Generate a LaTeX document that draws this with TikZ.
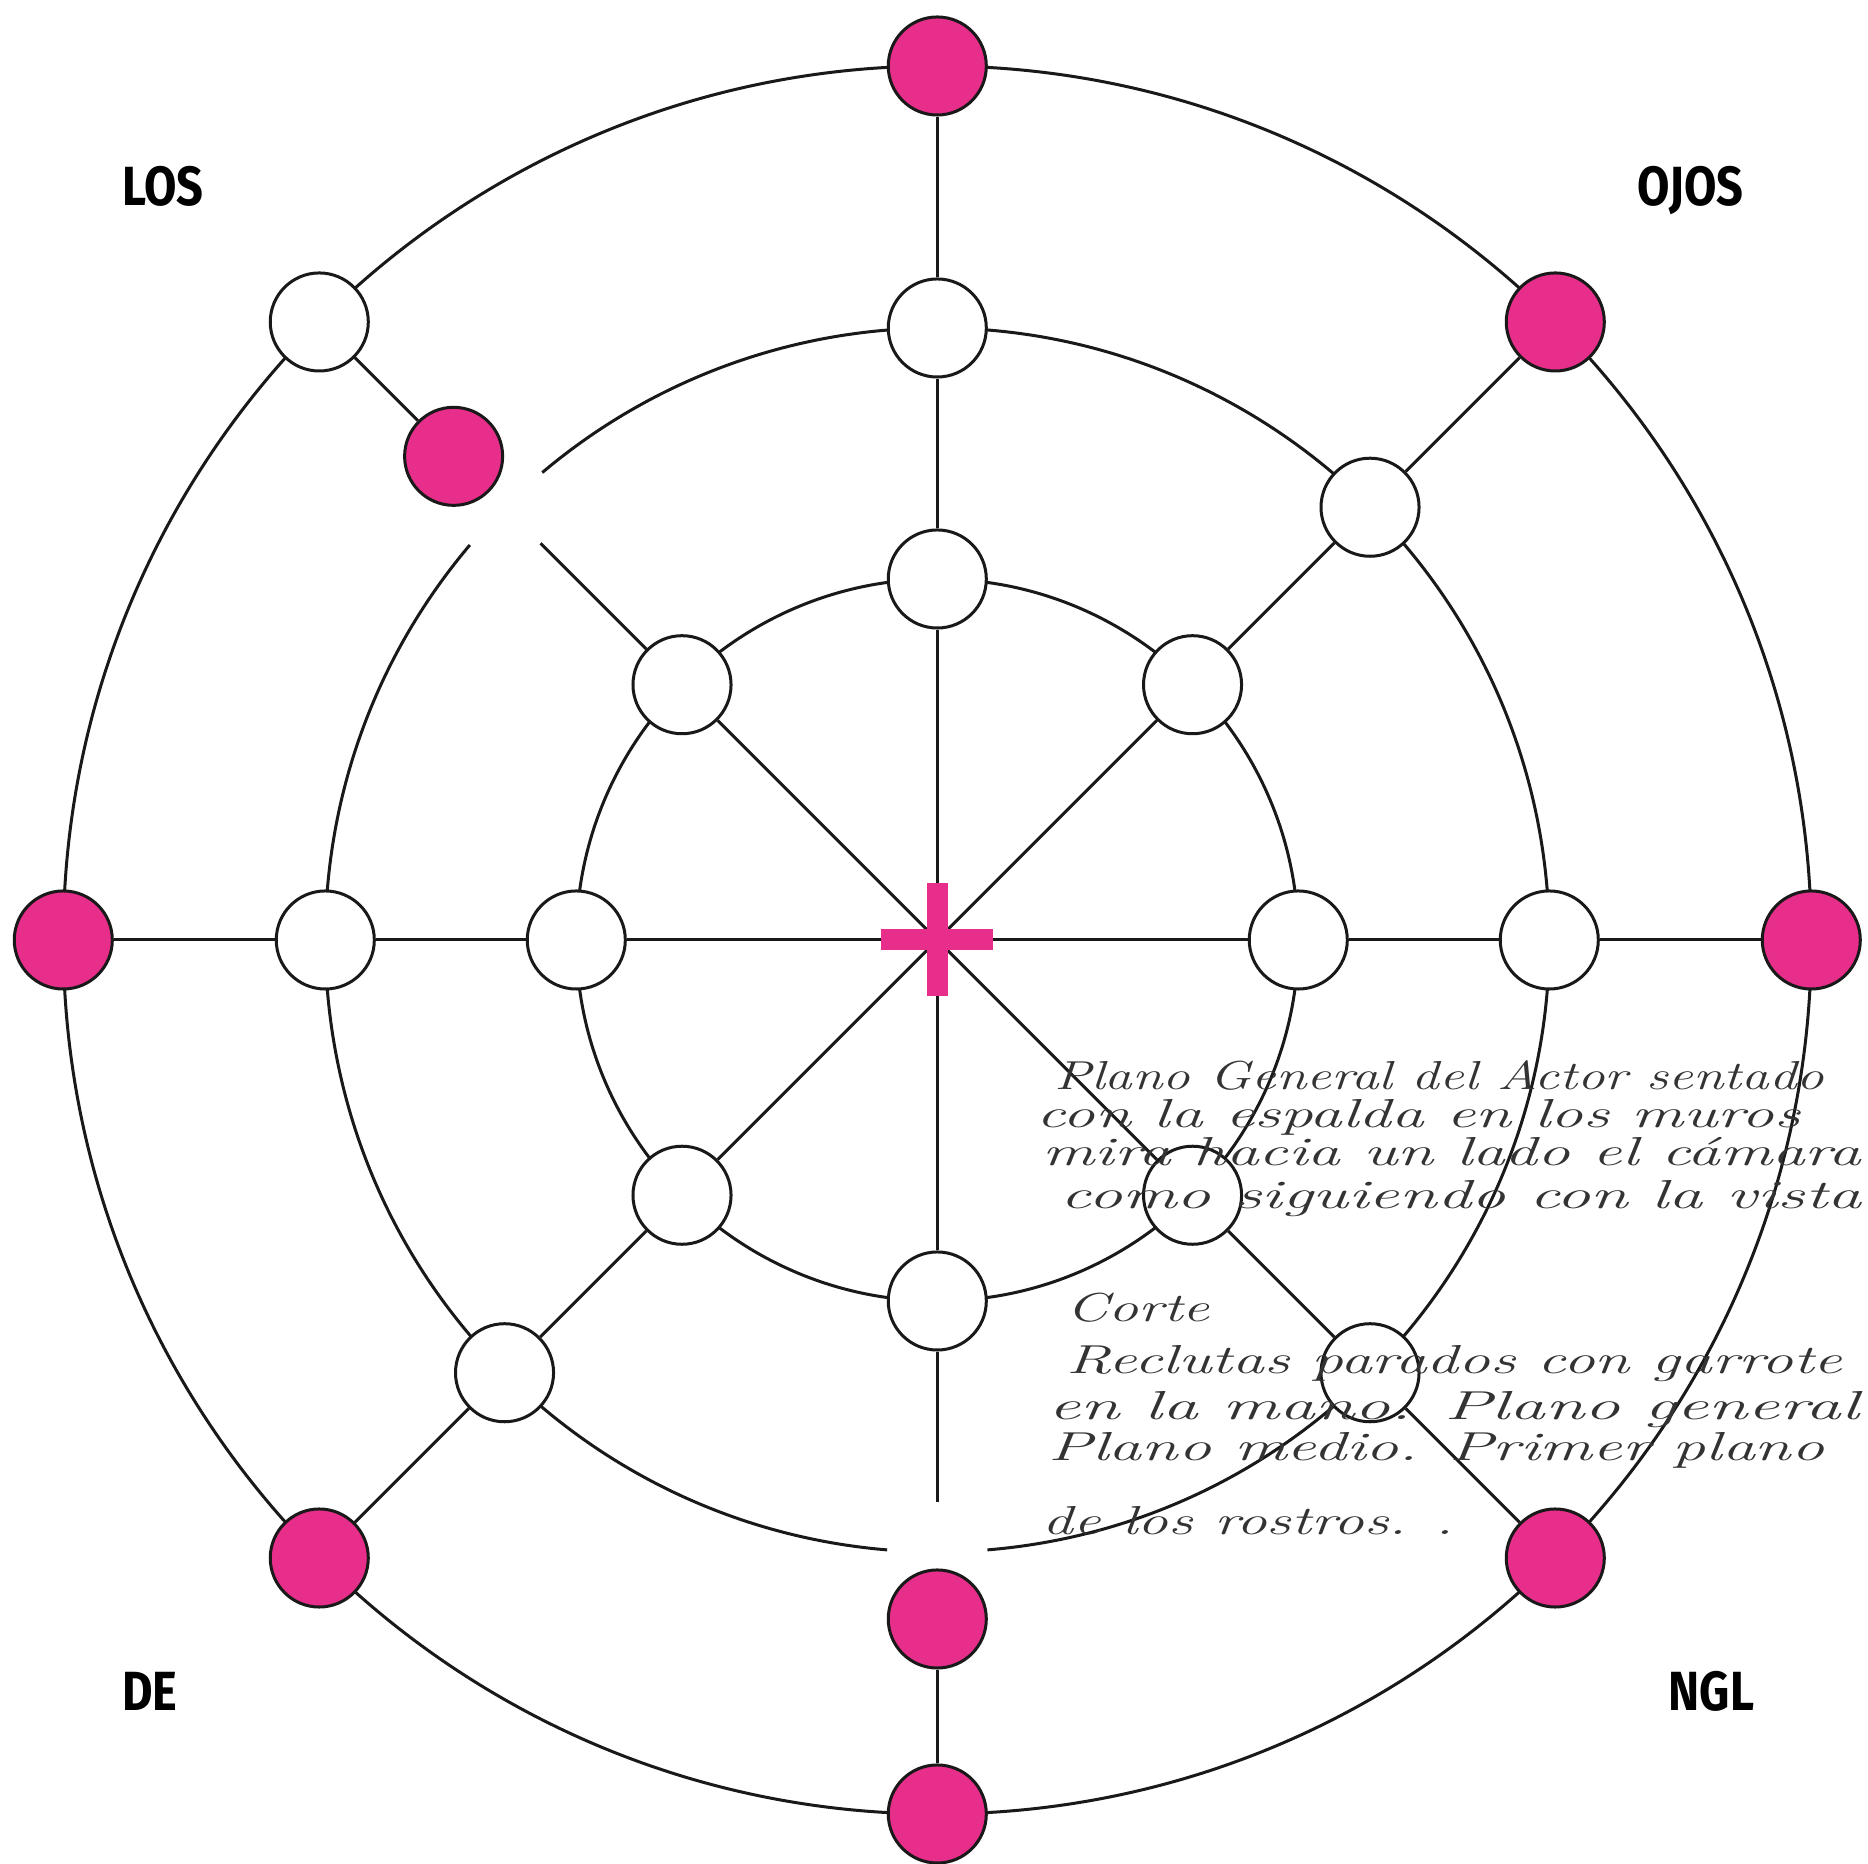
\documentclass[tikz,border=0pt]{standalone}
\usepackage{fontspec}
\usepackage{graphicx}
\usetikzlibrary{backgrounds}
\newfontfamily\labfont[FakeStretch=0.85]{Fira Sans}
\definecolor{rosa}{HTML}{E62E8A}
\tikzset{
  ring/.style={draw=black!90, line width=0.03cm},
  spoke/.style={draw=black!90, line width=0.03cm},
  wnode/.style={circle, draw=black!90, fill=white, line width=0.03cm, minimum size=0.98cm, inner sep=0pt},
  pnode/.style={wnode, fill=rosa},
  lab/.style={font=\labfont\bfseries\fontsize{15.7}{18}\selectfont, anchor=base, inner sep=0pt},
  hand/.style={font=\itshape\fontsize{11.5}{13}\selectfont, text=black!80, anchor=base west, inner sep=0pt}
}
\begin{document}
\begin{tikzpicture}[x=0.01cm,y=0.01cm]
\useasboundingbox (-937.3,-924) rectangle (930.7,940);
\coordinate (c) at (0,0);
% inner ring nodes
\foreach \a in {0,45,90,135,180,225,270,315}{
  \node[wnode] (i\a) at (\a:361) {};
}
% middle ring nodes
\foreach \a in {0,45,90,180,225,315}{
  \node[wnode] (m\a) at (\a:612) {};
}
% outer ring nodes
\foreach \a in {0,45,90,180,225,270,315}{
  \node[pnode] (o\a) at (\a:874) {};
}
\node[wnode] (o135) at (135:874) {};
\node[pnode] (p135) at (135:684) {};
\node[pnode] (p270) at (270:679) {};
\coordinate (e135) at (135:561);
\coordinate (e270) at (270:562);

\begin{scope}[on background layer]
  \draw[ring] (c) circle[radius=361];
  \draw[ring] (c) circle[radius=874];
  \draw[ring] (-85.3:612) arc[start angle=-85.3, end angle=130.2, radius=612];
  \draw[ring] (139.8:612) arc[start angle=139.8, end angle=265.3, radius=612];
  \foreach \a in {0,45,90,180,225,315}{
    \draw[spoke] (c) -- (i\a);
    \draw[spoke] (i\a) -- (m\a);
    \draw[spoke] (m\a) -- (o\a);
  }
  \draw[spoke] (c) -- (i135);
  \draw[spoke] (i135) -- (e135);
  \draw[spoke] (o135) -- (p135);
  \draw[spoke] (c) -- (i270);
  \draw[spoke] (i270) -- (e270);
  \draw[spoke] (p270) -- (o270);
\end{scope}

% centre cross
\fill[rosa] (-56,-10.5) rectangle (56,10.5);
\fill[rosa] (-10.5,-56.5) rectangle (10.5,56.5);

% corner labels
\node[lab] (tl) at (-774.3,734) {LOS};
\node[lab] (tr) at (753.2,734) {OJOS};
\node[lab] (bl) at (-787.3,-771) {DE};
\node[lab] (br) at (774.2,-771) {NGL};

% handwritten notes
\node[hand] (h1) at (116.7,-150) {\resizebox{7.69cm}{\height}{Plano General del Actor sentado}};
\node[hand] (h2) at (98.7,-188) {\resizebox{7.63cm}{\height}{con la espalda en los muros}};
\node[hand] (h3) at (104.7,-226) {\resizebox{8.18cm}{\height}{mira hacia un lado el cámara}};
\node[hand] (h4) at (122.7,-269) {\resizebox{8.0cm}{\height}{como siguiendo con la vista}};
\node[hand] (h5) at (128.7,-382) {\resizebox{1.43cm}{\height}{Corte}};
\node[hand] (h6) at (128.7,-434) {\resizebox{7.75cm}{\height}{Reclutas parados con garrote}};
\node[hand] (h7) at (110.7,-480) {\resizebox{8.1cm}{\height}{en la mano. Plano general}};
\node[hand] (h8) at (110.7,-521) {\resizebox{7.75cm}{\height}{Plano medio. Primer plano}};
\node[hand] (h9) at (104.7,-595) {\resizebox{4.11cm}{\height}{de los rostros. .}};
\end{tikzpicture}
\end{document}
